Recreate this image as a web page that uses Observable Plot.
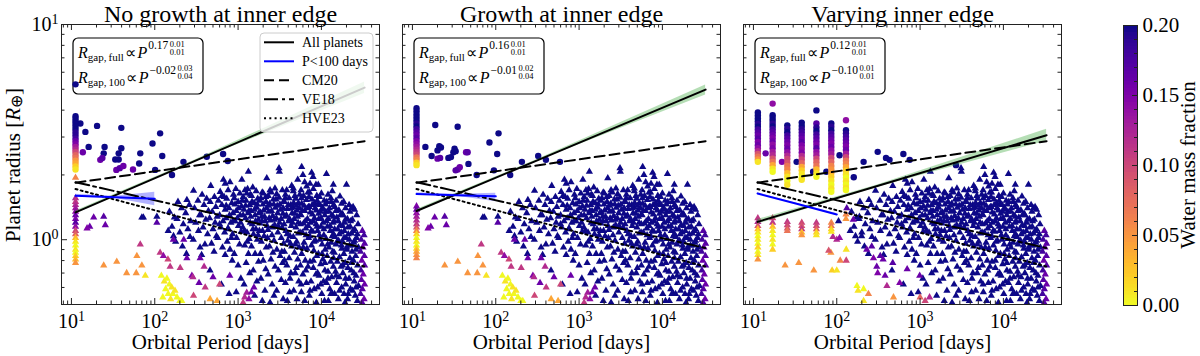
<!DOCTYPE html>
<html><head><meta charset="utf-8">
<script src="https://cdn.jsdelivr.net/npm/d3@7"></script>
<script src="https://cdn.jsdelivr.net/npm/@observablehq/plot@0.6"></script>
<style>
body{margin:0;background:#fff;}
#wrap{position:relative;width:1200px;height:356px;overflow:hidden;font-family:"Liberation Serif",serif;}
#wrap svg{position:absolute;top:0;}
</style></head><body><div id="wrap"></div>
<script>
// ---------------- DATA ----------------
const titles = ["No growth at inner edge", "Growth at inner edge", "Varying inner edge"];
const xLabel = "Orbital Period [days]";
const cbLabel = "Water mass fraction";
const xMajor = [10, 100, 1000, 10000];
const xMinor = [8, 9, 20, 30, 40, 50, 60, 70, 80, 90, 200, 300, 400, 500, 600, 700, 800, 900, 2000, 3000, 4000, 5000, 6000, 7000, 8000, 9000, 20000, 30000, 40000];
const yMajor = [1, 10];
const yMinor = [0.5, 0.6, 0.7, 0.8, 0.9, 2, 3, 4, 5, 6, 7, 8, 9];
const cbMajor = [0, 0.05, 0.1, 0.15, 0.2];
const cbMinor = [0.01, 0.02, 0.03, 0.04, 0.06, 0.07, 0.08, 0.09, 0.11, 0.12, 0.13, 0.14, 0.16, 0.17, 0.18, 0.19];

// outer triangle cloud shared by all panels [P days, R earth radii]; water fraction cloudW
const cloudW = 0.2;
const cloudTri = [
[150,1.35],[172,1.27],[161,1.15],[168,1.04],[145,1.10],[178,0.98],
[190,1.50],[210,1.40],[185,1.25],[220,1.18],[200,1.08],[215,0.93],
[243,1.53],[260,1.45],[235,1.33],[270,1.22],[250,1.12],[265,1.03],[240,0.86],
[292,1.69],[330,1.52],[300,1.40],[345,1.30],[310,1.20],[335,1.10],[290,1.0],[350,0.92],
[370,1.62],[420,1.55],[390,1.45],[440,1.36],[360,1.30],[410,1.24],[380,1.14],[430,1.06],[400,0.95],[365,0.85],
[470,1.78],[520,1.58],[462,1.50],[540,1.42],[490,1.35],[455,1.26],[530,1.20],[500,1.12],[550,1.04],[480,0.96],[515,0.88],[460,0.72],
[667,1.90],[700,1.82],[610,1.67],[680,1.58],[580,1.52],[640,1.45],[700,1.38],[600,1.30],[660,1.22],[620,1.14],[690,1.08],[570,1.02],[650,0.92],[700,0.85],[630,0.62],
[800,1.85],[760,1.70],[880,1.62],[730,1.55],[840,1.48],[780,1.40],[870,1.33],[720,1.26],[820,1.20],[760,1.13],[860,1.06],[740,0.98],[800,0.90],[850,0.80],[780,0.56],
[1110,1.90],[940,1.72],[1050,1.64],[900,1.56],[1000,1.50],[1100,1.43],[950,1.36],[1060,1.30],[920,1.22],[1010,1.16],[1090,1.09],[960,1.02],[1040,0.95],[900,0.86],[1000,0.76],[1080,0.66],[950,0.57],
[1330,2.07],[1210,1.70],[1300,1.72],[1400,1.62],[1150,1.58],[1250,1.52],[1380,1.45],[1180,1.38],[1320,1.33],[1230,1.26],[1400,1.20],[1140,1.14],[1280,1.08],[1360,1.01],[1200,0.94],[1330,0.86],[1250,0.78],[1380,0.70],[1180,0.62],
[1500,1.75],[1650,1.68],[1450,1.60],[1720,1.55],[1560,1.48],[1680,1.41],[1430,1.36],[1600,1.30],[1750,1.24],[1480,1.18],[1640,1.12],[1530,1.06],[1700,1.00],[1450,0.93],[1600,0.86],[1760,0.79],[1520,0.72],[1680,0.64],[1580,0.55],
[2210,1.93],[1950,1.66],[2010,1.64],[2150,1.58],[1820,1.52],[1990,1.46],[2200,1.40],[1860,1.34],[2080,1.28],[1940,1.22],[2230,1.16],[1800,1.10],[2050,1.04],[1900,0.98],[2180,0.92],[1850,0.86],[2000,0.80],[2150,0.73],[1880,0.66],[2100,0.58],[1950,0.52],
[2770,1.73],[3100,2.15],[2500,1.66],[2300,1.60],[2650,1.54],[2400,1.47],[2800,1.41],[2330,1.35],[2600,1.29],[2450,1.23],[2750,1.17],[2280,1.11],[2550,1.05],[2700,0.99],[2380,0.93],[2620,0.87],[2480,0.81],[2780,0.75],[2300,0.69],[2560,0.62],[2700,0.55],[2420,0.51],
[3130,2.07],[2900,1.63],[3400,1.70],[3100,1.57],[3500,1.50],[2950,1.44],[3250,1.38],[3450,1.32],[2880,1.26],[3150,1.20],[3380,1.14],[3000,1.08],[3300,1.02],[3520,0.96],[2920,0.90],[3200,0.84],[3420,0.78],[3050,0.72],[3300,0.65],[2900,0.58],[3480,0.53],
[3830,1.70],[4400,1.78],[4600,1.73],[3700,1.62],[4100,1.56],[3600,1.50],[4300,1.45],[3900,1.39],[4450,1.33],[3650,1.28],[4050,1.22],[4350,1.16],[3750,1.10],[4200,1.04],[3950,0.99],[4400,0.93],[3600,0.88],[4100,0.82],[3850,0.76],[4300,0.70],[3700,0.63],[4150,0.57],[3900,0.52],
[5800,2.18],[4800,1.60],[5200,1.90],[4600,1.68],[5500,1.62],[4900,1.55],[5300,1.48],[4550,1.42],[5100,1.37],[5600,1.31],[4700,1.25],[5250,1.20],[4950,1.14],[5550,1.08],[4600,1.03],[5050,0.98],[5400,0.92],[4750,0.87],[5200,0.81],[5600,0.76],[4850,0.70],[5350,0.64],[4650,0.58],[5100,0.53],
[6000,2.00],[6650,1.77],[6300,1.85],[5700,1.70],[6900,1.66],[6100,1.60],[6600,1.53],[5800,1.47],[7000,1.42],[6300,1.36],[5700,1.30],[6800,1.25],[6100,1.19],[6500,1.13],[5900,1.08],[7000,1.02],[6200,0.97],[6700,0.91],[5800,0.86],[6400,0.80],[6900,0.75],[6000,0.69],[6600,0.63],[5750,0.57],[6300,0.52],
[7640,2.05],[7940,1.96],[7300,1.82],[8600,1.80],[8000,1.72],[7200,1.66],[8800,1.60],[7700,1.54],[8300,1.48],[7150,1.42],[8700,1.37],[7800,1.31],[8250,1.26],[7400,1.20],[8850,1.15],[7900,1.09],[7250,1.04],[8500,0.99],[7600,0.94],[8100,0.89],[8800,0.84],[7300,0.79],[8000,0.74],[8600,0.69],[7500,0.64],[8200,0.59],[7150,0.55],[8700,0.51],
[9170,1.80],[10000,1.64],[9500,1.58],[10800,1.52],[9100,1.46],[10300,1.41],[9700,1.35],[11000,1.30],[9300,1.25],[10500,1.20],[9900,1.15],[9000,1.10],[10700,1.05],[9600,1.00],[10200,0.95],[11100,0.90],[9200,0.86],[10400,0.81],[9800,0.77],[11000,0.72],[9400,0.68],[10600,0.64],[9000,0.60],[10100,0.56],[10900,0.52],
[11500,2.02],[13900,1.80],[13500,1.68],[12000,1.62],[13000,1.56],[11600,1.50],[14000,1.45],[12500,1.40],[11300,1.35],[13300,1.30],[12100,1.25],[13800,1.20],[11800,1.15],[12800,1.10],[14000,1.06],[11400,1.01],[13100,0.97],[12300,0.92],[13700,0.88],[11700,0.84],[12900,0.79],[13900,0.75],[12000,0.71],[13300,0.67],[11500,0.63],[12600,0.59],[13600,0.56],[12100,0.52],
[16700,1.59],[15000,1.52],[17500,1.47],[14500,1.42],[16200,1.37],[17700,1.32],[15300,1.27],[14200,1.22],[16800,1.17],[15700,1.12],[17300,1.08],[14600,1.03],[16100,0.99],[15000,0.95],[17600,0.91],[14300,0.87],[16500,0.83],[15500,0.79],[17200,0.75],[14800,0.71],[16300,0.67],[15200,0.63],[17500,0.60],[14400,0.56],[16000,0.53],
[20000,1.80],[18500,1.50],[21500,1.45],[19500,1.40],[22000,1.35],[18200,1.30],[20500,1.25],[19000,1.20],[22200,1.15],[18800,1.10],[21000,1.06],[19800,1.02],[18000,0.98],[21800,0.94],[20200,0.90],[18600,0.86],[22000,0.82],[19300,0.78],[20800,0.74],[18100,0.70],[21500,0.66],[19600,0.62],[22300,0.59],[18700,0.56],[20600,0.53],[19200,0.51],
[22900,1.40],[24000,1.42],[25000,1.38],[26500,1.30],[23500,1.24],[27500,1.18],[25000,1.12],[23000,1.07],[26500,1.02],[24500,0.97],[27800,0.92],[23300,0.88],[25800,0.84],[24200,0.80],[27200,0.76],[22800,0.72],[26000,0.68],[24800,0.64],[27900,0.61],[23600,0.58],[25500,0.55],[27000,0.52],
[560,1.28],[600,1.18],[640,1.60],[720,1.44],[750,1.12],[790,1.30],[830,1.02],[870,1.22],[920,1.46],[980,1.26],[1020,1.40],[1070,1.20],[1120,1.52],[1150,1.30],[1190,1.10],[1230,1.44],[1270,1.64],[1290,0.98],[1350,1.36],[1420,1.28],[1470,1.50],[1510,1.12],[1570,1.38],[1620,1.22],[1700,1.46],[1740,1.05],[1780,1.33],[1830,1.19],[1880,1.56],[1920,1.28],[1970,1.10],[2030,1.37],[2120,1.22],[2170,1.50],[2250,1.02],[2320,1.44],[2360,1.26],[2420,1.70],[2520,1.36],[2580,1.14],[2680,1.46],[2730,1.24],[2850,1.54],[2980,1.33],[3050,1.15],[3180,1.46],[3280,1.25],[3350,0.88],[3480,1.40],[3560,1.18],[3680,1.56],[3800,1.30],[3880,1.06],[4000,1.45],[4150,1.25],[4250,0.96],[4380,1.40],[4500,1.20],[4650,1.48],[4780,1.32],[4880,0.95],[5000,1.44],[5150,1.28],[5300,1.07],[5450,1.40],[5600,1.18],[5750,1.56],[5900,1.36],[6050,0.92],[6200,1.44],[6400,1.22],[6550,1.05],[6750,1.40],[6950,1.16],[7100,1.58],[7350,1.34],[7550,1.10],[7750,1.45],[7950,1.22],[8150,0.98],[8400,1.40],[8650,1.18],[8900,1.52],[9250,1.32],[9450,1.05],[9650,1.45],[9900,1.26],[10200,0.86],[10500,1.38],[10700,1.12],[11200,1.46],[11500,1.22],[11900,0.95],[12300,1.35],[12700,1.16],[13100,1.50],[13500,1.04],[13900,1.28],[14400,1.12],[14900,1.36],[15400,0.98],[15900,1.22],[16400,1.06],[16900,1.30],[17400,0.94],[18000,1.16],[18700,1.02],[19400,1.24],[20100,0.92],[20800,1.14],[21600,1.00],[22400,1.22],[23200,0.94],[24100,1.10],[25000,0.99],[26000,0.90],[27000,1.06],
[3600,0.80],[4200,0.66],[5000,0.74],[5700,0.62],[6500,0.72],[7300,0.58],[8000,0.80],[9000,0.70],[9800,0.62],[11000,0.78],[12000,0.66],[13000,0.56],[14000,0.82],[15000,0.68],[16500,0.58],[18000,0.76],[19500,0.66],[21000,0.56],[23000,0.78],[24500,0.70],[26000,0.60]
];
// right-edge column of outer triangles [P, R, water fraction]
const edgeTri = [
[31000,1.10,0.17],[32500,1.05,0.18],[30000,1.00,0.18],[33000,0.96,0.17],[31500,0.92,0.16],[29500,0.88,0.18],[32800,0.84,0.17],[30500,0.80,0.16],[33000,0.76,0.17],[29800,0.72,0.18],[31800,0.69,0.16],[30200,0.65,0.17],[33000,0.62,0.16],[31000,0.59,0.17],[29500,0.56,0.18],[32500,0.53,0.16],[30800,0.51,0.17]
];
// coloured triangles between inner edge and cloud, panels 1 and 2 [P, R, w]
const midTri12 = [
[18.5,1.27,0.16],[16.6,1.15,0.16],[15.4,1.13,0.15],[24.4,1.28,0.17],[25.5,1.17,0.16],[70,1.27,0.2],[73,1.27,0.2],[106,1.28,0.2],[106,1.20,0.17],
[67,0.95,0.11],[61,0.84,0.05],[70,0.76,0.05],[77,0.68,0.01],[60,0.70,0.05],[46,0.70,0.05],[35,0.79,0.05],[24.4,0.76,0.05],[116,0.87,0.11],[144,0.81,0.1],
[120,0.68,0],[130,0.64,0.01],[140,0.66,0],[150,0.62,0],[160,0.60,0.01],[135,0.59,0],[145,0.56,0],[165,0.56,0],[175,0.58,0.01],[185,0.54,0],[125,0.54,0],[155,0.53,0.01],[200,0.52,0],
[202,0.74,0.11],[279,0.68,0.15],[292,0.55,0.1],[403,0.60,0.11],[340,0.63,0.16],[127,0.84,0.14],[153,0.75,0.11],[167,1.0,0.16],[223,1.0,0.16],[243,0.82,0.16],[351,0.82,0.16],[391,0.75,0.12],[287,0.67,0.12],[500,0.67,0.16],[600,0.62,0.1],[795,0.68,0.16],[462,0.53,0.04],[560,0.52,0.04],[211,0.52,0],
[1270,0.567,0.13],[1200,0.54,0.12],[1350,0.53,0.14],[1450,0.57,0.16],[1550,0.6,0.16],[1150,0.51,0.11]
];
// inner-edge column (P = innerP) [R, w]
const innerP = 11.2;
const innerCirc1 = [[5.27,0.2],[3.75,0.2],[3.65,0.2],[3.55,0.2],[3.45,0.2],[3.35,0.2],[3.25,0.2],[3.15,0.19],[3.05,0.19],[2.95,0.18],[2.87,0.16],[2.78,0.15],[2.70,0.13],[2.62,0.12],[2.55,0.10],[2.47,0.08],[2.40,0.07],[2.33,0.05],[2.26,0.04],[2.19,0.02],[2.12,0.01]];
const innerTri1 = [[1.94,0.06],[1.56,0.12],[1.50,0.11],[1.45,0.12],[1.40,0.13],[1.35,0.14],[1.30,0.16],[1.25,0.15],[1.20,0.17],[1.15,0.14],[1.10,0.10],[1.06,0.08],[1.02,0.03],[0.98,0.01],[0.94,0.0],[0.90,0.01],[0.87,0.0],[0.84,0.02],[0.81,0.03],[0.78,0.05]];
const innerCirc2 = [[4.08,0.2],[3.95,0.2],[3.82,0.2],[3.70,0.2],[3.58,0.2],[3.47,0.19],[3.36,0.2],[3.26,0.18],[3.16,0.17],[3.06,0.16],[2.96,0.17],[2.87,0.15],[2.78,0.14],[2.70,0.13],[2.62,0.12],[2.55,0.11],[2.48,0.10],[2.41,0.07],[2.35,0.06],[2.28,0.02],[2.22,0.01]];
const innerTri2 = [[1.43,0.15],[1.38,0.16],[1.33,0.14],[1.28,0.13],[1.23,0.12],[1.18,0.11],[1.14,0.09],[1.10,0.06],[1.06,0.02],[1.02,0.0],[0.98,0.01],[0.94,0.0],[0.91,0.02],[0.88,0.04],[0.85,0.05],[0.82,0.06]];
// other circles [P, R, w]
const circ1 = [[12.8,3.47,0.2],[14.7,3.17,0.2],[20.3,3.38,0.2],[39.7,3.31,0.2],[116,3.12,0.2],[94,2.80,0.2],[16.1,2.70,0.2],[13.7,2.55,0.16],[25,2.70,0.2],[24.4,2.52,0.2],[22.2,2.35,0.16],[23.5,2.40,0.17],[36.9,2.52,0.2],[39.7,2.66,0.2],[33.6,2.36,0.2],[36.9,2.36,0.2],[67,2.52,0.2],[65,2.26,0.2],[34.6,2.11,0.16],[38,2.15,0.17],[42,2.2,0.16],[54.8,2.12,0.16],[101,2.11,0.2],[161,2.0,0.2],[221,2.30,0.2],[421,2.43,0.2],[123,2.45,0.2],[661,2.50,0.2],[752,2.32,0.2]];
const circ2 = [[18.8,3.41,0.2],[34.9,3.35,0.2],[108,3.12,0.2],[84,2.83,0.2],[14.3,2.70,0.2],[21,2.72,0.2],[22,2.68,0.2],[20,2.6,0.2],[17,2.45,0.2],[20,2.38,0.16],[21.5,2.40,0.17],[27,2.40,0.2],[29,2.42,0.2],[31,2.55,0.2],[33,2.58,0.2],[32,2.65,0.2],[44,2.55,0.16],[46,2.55,0.17],[47,2.25,0.2],[37,2.17,0.16],[35,2.12,0.16],[33,2.10,0.17],[59,2.0,0.2],[104,2.5,0.2],[95,2.1,0.2],[149,2.0,0.2],[206,2.3,0.2],[323,2.45,0.2],[590,2.3,0.2],[400,2.35,0.2]];
const circ3 = [[14,2.52,0.16],[22,2.30,0.15],[33,2.30,0.2],[52,2.07,0.2],[75,2.07,0.2],[108,2.47,0.2],[160,1.95,0.2],[210,2.30,0.2],[310,2.56,0.2],[430,2.35,0.2],[390,2.40,0.2],[630,2.50,0.2],[750,2.35,0.2],[2700,2.22,0.2]];
// panel 3 columns of planets at several inner-edge periods
const cols3P = [11.3, 17, 25.5, 38, 57, 86, 129];
const cols3Circ = [
[[3.9,0.2],[3.78,0.2],[3.66,0.2],[3.55,0.2],[3.45,0.19],[3.35,0.2],[3.25,0.18],[3.15,0.17],[3.05,0.16],[2.95,0.17],[2.85,0.15],[2.75,0.16],[2.66,0.14],[2.58,0.12],[2.5,0.09],[2.43,0.07],[2.36,0.05],[2.3,0.01]],
[[4.29,0.14],[3.79,0.2],[3.68,0.2],[3.57,0.2],[3.46,0.19],[3.36,0.2],[3.26,0.18],[3.16,0.17],[3.06,0.16],[2.96,0.15],[2.86,0.16],[2.76,0.14],[2.66,0.15],[2.56,0.13],[2.47,0.12],[2.38,0.09],[2.3,0.07],[2.22,0.04],[2.14,0.01],[2.07,0]],
[[3.4,0.2],[3.28,0.19],[3.16,0.2],[3.05,0.18],[2.95,0.17],[2.85,0.16],[2.75,0.15],[2.65,0.16],[2.55,0.14],[2.46,0.12],[2.37,0.1],[2.28,0.09],[2.2,0.07],[2.12,0.06],[2.04,0.03],[1.96,0.01],[1.88,0],[1.8,0.01]],
[[3.5,0.2],[3.38,0.2],[3.26,0.19],[3.15,0.18],[3.04,0.17],[2.94,0.16],[2.84,0.17],[2.74,0.15],[2.64,0.14],[2.54,0.15],[2.45,0.12],[2.36,0.1],[2.27,0.08],[2.18,0.04],[2.1,0.02],[2.02,0.01],[1.94,0],[1.9,0.01]],
[[3.99,0.2],[3.47,0.17],[3.32,0.19],[3.2,0.2],[3.08,0.18],[2.97,0.17],[2.86,0.16],[2.76,0.15],[2.66,0.17],[2.56,0.14],[2.47,0.13],[2.38,0.1],[2.29,0.08],[2.2,0.07],[2.12,0.03],[2.04,0.01],[1.96,0]],
[[3.47,0.2],[3.35,0.19],[3.23,0.2],[3.11,0.18],[3.0,0.17],[2.9,0.16],[2.8,0.15],[2.7,0.16],[2.6,0.14],[2.5,0.13],[2.4,0.1],[2.3,0.08],[2.2,0.06],[2.12,0.05],[2.04,0.04],[1.96,0.02],[1.88,0.01],[1.8,0],[1.73,0.01],[1.67,0]],
[[3.59,0.14],[3.23,0.2],[3.12,0.19],[3.01,0.18],[2.91,0.17],[2.81,0.16],[2.71,0.15],[2.61,0.16],[2.51,0.13],[2.42,0.1],[2.33,0.07],[2.25,0.06],[2.17,0.04],[2.09,0.02],[2.01,0.01],[1.94,0],[1.87,0.01],[1.8,0],[1.74,0.01],[1.7,0]]
];
const cols3Tri = [
[[1.26,0.11],[1.21,0.12],[1.16,0.09],[1.12,0.03],[1.08,0.01],[1.04,0],[1.0,0.01],[0.96,0],[0.92,0.02],[0.88,0],[0.85,0.01],[0.81,0.05]],
[[1.26,0.1],[1.2,0.11],[1.15,0.03],[1.1,0.01],[1.05,0],[1.0,0.01],[0.95,0],[0.9,0.02]],
[[1.21,0.11],[1.17,0.1],[1.13,0.09],[1.1,0.07]],
[[1.2,0.1],[1.16,0.09],[1.12,0.11],[1.08,0.03],[1.05,0.05]],
[[1.2,0.11],[1.16,0.1],[1.12,0.08],[1.08,0.02],[1.05,0.01]],
[[1.2,0.06],[1.16,0.07],[1.12,0.02],[1.09,0.01]],
[[1.31,0.06],[1.25,0.05]]
];
const midTri3 = [
[24,0.76,0.05],[35,0.78,0.05],[53,0.72,0.05],[85,0.87,0.05],[110,0.80,0.06],[130,0.80,0.1],[88,0.72,0.02],[100,0.72,0.01],[130,0.90,0.01],[175,0.61,0],[180,0.58,0.01],[210,0.59,0],[240,0.56,0.06],[210,0.52,0.01],[80,0.89,0.09],[100,1.0,0.12],[108,1.02,0.14],[90,1.03,0.12],
[105,1.22,0.2],[132,1.40,0.17],[158,1.24,0.16],[187,1.28,0.2],[199,1.04,0.2],[229,0.90,0.16],[263,0.93,0.17],[276,0.82,0.15],[302,0.75,0.16],[380,0.68,0.16],[400,0.61,0.12],[333,0.84,0.17],
[360,0.81,0.16],[470,0.78,0.17],[700,0.73,0.16],[570,0.63,0.15],[990,0.68,0.16],[310,0.70,0.15],[480,0.54,0.05],[1000,0.54,0.08],[1150,0.52,0.1],[1300,0.54,0.12]
];
// model and fit lines
const modelP = [11.2, 33000];
const cm20R = [1.84, 2.87];
const ve18R = [1.85, 0.915];
const hve23R = [1.72, 0.75];
const fitAllP = [11.2, 300, 33000];
const fitAll = [
  {R: [1.34, 2.32, 5.09], lo: [1.32, 2.30, 4.78], hi: [1.36, 2.34, 5.40]},
  {R: [1.36, 2.32, 4.98], lo: [1.34, 2.30, 4.70], hi: [1.38, 2.34, 5.24]},
  {R: [1.21, 1.773, 3.06], lo: [1.18, 1.75, 2.87], hi: [1.24, 1.79, 3.26]}
];
const fitInP = [11.2, 33, 100];
const fitIn = [
  {R: [1.60, 1.575, 1.55], lo: [1.575, 1.56, 1.44], hi: [1.625, 1.59, 1.66]},
  {R: [1.63, 1.61, 1.59], lo: [1.605, 1.595, 1.50], hi: [1.655, 1.625, 1.645]},
  {R: [1.64, 1.468, 1.31], lo: [1.625, 1.46, 1.295], hi: [1.655, 1.476, 1.325]}
];
const annotations = [
  [["gap,\u2009full", "0.17", "0.01", "0.01"], ["gap,\u2009100", "\u22120.02", "0.03", "0.04"]],
  [["gap,\u2009full", "0.16", "0.01", "0.01"], ["gap,\u2009100", "\u22120.01", "0.02", "0.04"]],
  [["gap,\u2009full", "0.12", "0.01", "0.01"], ["gap,\u2009100", "\u22120.10", "0.01", "0.01"]]
];
const legendLabels = ["All planets", "P<100 days", "CM20", "VE18", "HVE23"];

// ---------------- BUILD ----------------
const rec = (P, R, w) => ({P, R, w});
const shared = [...cloudTri.map(([P, R]) => rec(P, R, cloudW)), ...edgeTri.map(([P, R, w]) => rec(P, R, w))];
const tri12 = midTri12.map(([P, R, w]) => rec(P, R, w));
const panelsData = [
  {tri: [...shared, ...tri12, ...innerTri1.map(([R, w]) => rec(innerP, R, w))],
   circ: [...circ1.map(([P, R, w]) => rec(P, R, w)), ...innerCirc1.map(([R, w]) => rec(innerP, R, w))]},
  {tri: [...shared, ...tri12, ...innerTri2.map(([R, w]) => rec(innerP, R, w))],
   circ: [...circ2.map(([P, R, w]) => rec(P, R, w)), ...innerCirc2.map(([R, w]) => rec(innerP, R, w))]},
  {tri: [...shared, ...midTri3.map(([P, R, w]) => rec(P, R, w)), ...cols3Tri.flatMap((c, i) => c.map(([R, w]) => rec(cols3P[i], R, w)))],
   circ: [...circ3.map(([P, R, w]) => rec(P, R, w)), ...cols3Circ.flatMap((c, i) => c.map(([R, w]) => rec(cols3P[i], R, w)))]}
];
const colorScale = {type: "linear", scheme: "plasma", domain: [0, 0.2], reverse: true};
const FONT = "Liberation Serif";
const frameLefts = [61, 402, 743];
const W = 318, H = 280, MT = 24, MB = 52, ML = 61, MR = 10;
const wrap = document.getElementById("wrap");

const under = d3.select(wrap).append("svg").attr("width", 1200).attr("height", 356).style("left", "0px")
  .attr("font-family", FONT);

const lineRows = (P, R) => P.map((p, i) => ({P: p, R: R[i]}));
const bandRows = (P, f) => P.map((p, i) => ({P: p, lo: f.lo[i], hi: f.hi[i]}));

function supify(svg) {
  svg.querySelectorAll('g[aria-label="x-axis tick label"] text, g[aria-label="y-axis tick label"] text').forEach(t => {
    const s = t.textContent;
    if (!s.includes("^")) return;
    const [b, e] = s.split("^");
    t.textContent = "";
    const t1 = document.createElementNS("http://www.w3.org/2000/svg", "tspan");
    t1.textContent = b; t.appendChild(t1);
    const t2 = document.createElementNS("http://www.w3.org/2000/svg", "tspan");
    t2.setAttribute("dy", "-0.48em"); t2.setAttribute("font-size", "70%");
    t2.textContent = e; t.appendChild(t2);
  });
}
const expFmt = d => "10^" + Math.round(Math.log10(d));

panelsData.forEach((pd, k) => {
  const plot = Plot.plot({
    width: ML + W + MR, height: 356, marginLeft: ML, marginRight: MR, marginTop: MT, marginBottom: MB,
    style: {background: "none", overflow: "visible", fontFamily: FONT, color: "#000"},
    x: {type: "log", domain: [7.6, 49800], axis: null},
    y: {type: "log", domain: [0.5, 10], axis: null},
    color: colorScale,
    marks: [
      Plot.dot(pd.tri, {x: "P", y: "R", fill: "w", symbol: "triangle", r: 2.7, clip: true}),
      Plot.dot(pd.circ, {x: "P", y: "R", fill: "w", r: 3.2, clip: true}),
      Plot.areaY(bandRows(fitAllP, fitAll[k]), {x: "P", y1: "lo", y2: "hi", fill: "#2ca02c", fillOpacity: 0.35}),
      Plot.areaY(bandRows(fitInP, fitIn[k]), {x: "P", y1: "lo", y2: "hi", fill: "blue", fillOpacity: 0.3}),
      Plot.line(lineRows(modelP, cm20R), {x: "P", y: "R", stroke: "black", strokeWidth: 2, strokeDasharray: "10,5"}),
      Plot.line(lineRows(modelP, ve18R), {x: "P", y: "R", stroke: "black", strokeWidth: 2, strokeDasharray: "14,4,3,4"}),
      Plot.line(lineRows(modelP, hve23R), {x: "P", y: "R", stroke: "black", strokeWidth: 2, strokeDasharray: "2,3.3"}),
      Plot.line(lineRows(fitAllP, fitAll[k].R), {x: "P", y: "R", stroke: "black", strokeWidth: 2}),
      Plot.line(lineRows(fitInP, fitIn[k].R), {x: "P", y: "R", stroke: "blue", strokeWidth: 2}),
      Plot.frame({stroke: "#222", strokeWidth: 1}),
      Plot.tickX(xMajor, {x: d => d, insetTop: H - 6, stroke: "#222"}),
      Plot.tickX(xMajor, {x: d => d, insetBottom: H - 6, stroke: "#222"}),
      Plot.tickX(xMinor, {x: d => d, insetTop: H - 3.5, stroke: "#222"}),
      Plot.tickX(xMinor, {x: d => d, insetBottom: H - 3.5, stroke: "#222"}),
      Plot.tickY(yMajor, {y: d => d, insetRight: W - 6, stroke: "#222"}),
      Plot.tickY(yMajor, {y: d => d, insetLeft: W - 6, stroke: "#222"}),
      Plot.tickY(yMinor, {y: d => d, insetRight: W - 3.5, stroke: "#222"}),
      Plot.tickY(yMinor, {y: d => d, insetLeft: W - 3.5, stroke: "#222"}),
      Plot.axisX({ticks: xMajor, tickSize: 0, tickPadding: 9, fontSize: 20, tickFormat: expFmt, label: null}),
      k === 0 ? Plot.axisY({ticks: yMajor, tickSize: 0, tickPadding: 3, fontSize: 20, tickFormat: expFmt, label: null}) : null,
      Plot.text([titles[k]], {text: d => d, frameAnchor: "top", dy: -2.6, lineAnchor: "bottom", fontSize: 24}),
      Plot.text([xLabel], {text: d => d, frameAnchor: "bottom", dy: 44, lineAnchor: "bottom", fontSize: 21})
    ]
  });
  plot.style.left = (frameLefts[k] - ML) + "px";
  supify(plot);
  wrap.appendChild(plot);
});

// colorbar
const ramp = d3.range(0, 0.2, 0.0025);
const cb = Plot.plot({
  width: 100, height: 356, marginLeft: 23, marginRight: 63, marginTop: 25, marginBottom: 51,
  style: {background: "none", overflow: "visible", fontFamily: FONT, color: "#000"},
  x: {domain: [0, 1], axis: null},
  y: {domain: [0, 0.2], axis: null},
  color: colorScale,
  marks: [
    Plot.rect(ramp, {x1: 0, x2: 1, y1: d => d, y2: d => Math.min(0.2, d + 0.003), fill: d => d + 0.00125}),
    Plot.frame({stroke: "#222", strokeWidth: 1}),
    Plot.tickY(cbMajor, {y: d => d, insetLeft: 9, stroke: "#222"}),
    Plot.tickY(cbMinor, {y: d => d, insetLeft: 11, stroke: "#222"}),
    Plot.axisY({anchor: "right", ticks: cbMajor, tickSize: 0, tickPadding: 5, fontSize: 21, tickFormat: d => d.toFixed(2), label: null})
  ]
});
cb.style.left = "1100px";
wrap.appendChild(cb);

// annotation boxes (under the points)
frameLefts.forEach((L, k) => {
  const g = under.append("g");
  g.append("rect").attr("x", L + 12).attr("y", 38).attr("width", 130).attr("height", 56).attr("rx", 5)
    .attr("fill", "white").attr("stroke", "black").attr("stroke-width", 1.2);
  annotations[k].forEach((ln, j) => {
    const x = L + 17, y = 58 + j * 24.5;
    const t = g.append("text").attr("x", x).attr("y", y).attr("font-size", 16);
    t.append("tspan").attr("font-style", "italic").text("R");
    t.append("tspan").attr("font-size", 11).attr("dy", 3).text(ln[0]);
    t.append("tspan").attr("dy", -3).attr("dx", 1).text("\u221D");
    t.append("tspan").attr("font-style", "italic").attr("dx", 1.5).text("P");
    t.append("tspan").attr("font-size", 11.5).attr("dy", -9).attr("dx", 1).text(ln[1]);
    const w = t.node().getComputedTextLength() + 5;
    g.append("text").attr("x", x + w).attr("y", y - 11.5).attr("font-size", 8.5).text(ln[2]);
    g.append("text").attr("x", x + w).attr("y", y - 3.5).attr("font-size", 8.5).text(ln[3]);
  });
});

// overlay: legend, y label, colorbar label
const over = d3.select(wrap).append("svg").attr("width", 1200).attr("height", 356).style("left", "0px")
  .attr("font-family", FONT).style("pointer-events", "none");
const lg = over.append("g");
lg.append("rect").attr("x", 260).attr("y", 33).attr("width", 113).attr("height", 99).attr("rx", 4)
  .attr("fill", "white").attr("fill-opacity", 0.8).attr("stroke", "#cccccc").attr("stroke-width", 1);
const lgStyles = [["black", null], ["blue", null], ["black", "10,5"], ["black", "14,4,3,4"], ["black", "2,3.3"]];
legendLabels.forEach((lab, i) => {
  const yb = 47.3 + i * 19;
  lg.append("line").attr("x1", 264).attr("x2", 294).attr("y1", yb - 5).attr("y2", yb - 5)
    .attr("stroke", lgStyles[i][0]).attr("stroke-width", 2).attr("stroke-dasharray", lgStyles[i][1]);
  lg.append("text").attr("x", 302).attr("y", yb).attr("font-size", 14).text(lab);
});
const yl = over.append("text").attr("transform", "translate(19.5,165) rotate(-90)").attr("text-anchor", "middle").attr("font-size", 21);
yl.append("tspan").text("Planet radius [");
yl.append("tspan").attr("font-style", "italic").text("R");
yl.append("tspan").attr("font-size", 16).attr("dy", 2).text("\u2295");
yl.append("tspan").attr("dy", -2).text("]");
over.append("text").attr("transform", "translate(1194.5,165) rotate(-90)").attr("text-anchor", "middle")
  .attr("font-size", 21).text(cbLabel);
</script></body></html>
